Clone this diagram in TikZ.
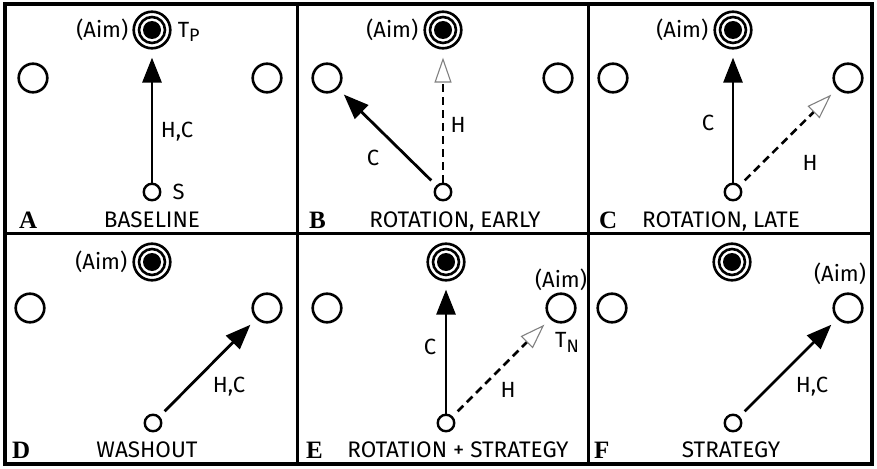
\documentclass[tikz,border=0pt]{standalone}
\usepackage{fontspec}
\setmainfont{Fira Sans}
\newfontfamily\letterfont{Liberation Serif}
\usetikzlibrary{arrows.meta,positioning}

\newcommand{\sublbl}[1]{\raisebox{-0.4ex}{\fontsize{18}{18}\selectfont #1}}

\begin{document}
\begin{tikzpicture}[
    x=1pt, y=-1pt,
    frame/.style={draw, line width=3.4pt},
    divider/.style={draw, line width=3pt},
    target/.style={circle, draw, line width=2.6pt, minimum size=36.6pt, inner sep=0pt,
        path picture={\draw[line width=2.6pt] (path picture bounding box.center) circle (13pt);
                      \fill (path picture bounding box.center) circle (9pt);}},
    ring/.style={circle, draw, line width=2.6pt, minimum size=28.6pt, inner sep=0pt},
    home/.style={circle, draw, line width=2.4pt, minimum size=16.5pt, inner sep=0pt},
    lbl/.style={font=\fontsize{22}{24}\selectfont, inner sep=0pt},
    caption/.style={font=\fontsize{22.5}{24}\selectfont, anchor=base, inner sep=0pt},
    letter/.style={font=\letterfont\bfseries\fontsize{25}{27}\selectfont, anchor=base west, inner sep=0pt},
    cursorarrow/.style={-{Triangle[length=25pt, width=19pt]}, line width=2.8pt, shorten >=8pt},
    handarrow/.style={-{Triangle[open, length=25pt, width=17pt, line width=1.1pt, color=gray]},
        line width=2.6pt, dash pattern=on 8pt off 5pt, shorten >=8pt},
    diag/.style={shorten <=7pt},
]
\useasboundingbox (0,0) rectangle (877,468);

% ── Frame ──
\draw[frame] (5,4) rectangle (872,464);
\draw[divider] (297,4) -- (297,464);
\draw[divider] (588,4) -- (588,464);
\draw[divider] (5,233) -- (872,233);

% ── A: baseline ──
\begin{scope}
  \node[target] (tA) at (152,30) {};
  \node[ring] (lA) at (33,78) {};
  \node[ring] (rA) at (267,78) {};
  \node[home] (sA) at (152,192) {};
  \draw[cursorarrow] (sA) -- (tA);
  \node[lbl, left=4pt of tA] (aimA) {(Aim)};
  \node[lbl, right=6pt of tA, yshift=-2pt] (tpA) {T\sublbl{P}};
  \node[lbl] (hcA) at (177,132) {H,C};
  \node[lbl, right=11pt of sA] (sLabA) {S};
  \node[letter] (idA) at (19,228) {A};
  \node[caption] (capA) at (152,227) {BASELINE};
\end{scope}

% ── B: rotation, early ──
\begin{scope}[shift={(291,0)}]
  \node[target] (tB) at (152,30) {};
  \node[ring] (lB) at (36,78) {};
  \node[ring] (rB) at (267,78) {};
  \node[home] (sB) at (152,192) {};
  \draw[handarrow] (sB) -- (tB);
  \draw[cursorarrow, diag] (sB) -- (lB);
  \node[lbl, left=5pt of tB] (aimB) {(Aim)};
  \node[lbl] (hB) at (167,125) {H};
  \node[lbl] (cB) at (82,158) {C};
  \node[letter] (idB) at (18,228) {B};
  \node[caption] (capB) at (164,227) {ROTATION, EARLY};
\end{scope}

% ── C: rotation, late ──
\begin{scope}[shift={(581,0)}]
  \node[target] (tC) at (152,30) {};
  \node[ring] (lC) at (32,78) {};
  \node[ring] (rC) at (267,78) {};
  \node[home] (sC) at (152,192) {};
  \draw[cursorarrow] (sC) -- (tC);
  \draw[handarrow, diag] (sC) -- (rC);
  \node[lbl, left=5pt of tC] (aimC) {(Aim)};
  \node[lbl] (cC) at (127,123) {C};
  \node[lbl] (hC) at (229,163) {H};
  \node[letter] (idC) at (18,228) {C};
  \node[caption] (capC) at (140,227) {ROTATION, LATE};
\end{scope}

% ── D: washout ──
\begin{scope}[shift={(0,230)}]
  \node[target] (tD) at (152,32) {};
  \node[ring] (lD) at (30,78) {};
  \node[ring] (rD) at (267,78) {};
  \node[home] (sD) at (153,193) {};
  \draw[cursorarrow, diag] (sD) -- (rD);
  \node[lbl, left=5pt of tD] (aimD) {(Aim)};
  \node[lbl] (hcD) at (229,157) {H,C};
  \node[letter] (idD) at (12,228) {D};
  \node[caption] (capD) at (147,227) {WASHOUT};
\end{scope}

% ── E: rotation + strategy ──
\begin{scope}[shift={(291,230)}]
  \node[target] (tE) at (155,32) {};
  \node[ring] (lE) at (36,78) {};
  \node[ring] (rE) at (270,78) {};
  \node[home] (sE) at (155,193) {};
  \draw[cursorarrow] (sE) -- (tE);
  \draw[handarrow, diag] (sE) -- (rE);
  \node[lbl, above=2pt of rE] (aimE) {(Aim)};
  \node[lbl, below=9pt of rE, xshift=6pt] (tnE) {T\sublbl{N}};
  \node[lbl] (cE) at (139,117) {C};
  \node[lbl] (hE) at (217,160) {H};
  \node[letter] (idE) at (15,228) {E};
  \node[caption] (capE) at (167,227) {ROTATION + STRATEGY};
\end{scope}

% ── F: strategy ──
\begin{scope}[shift={(581,230)}]
  \node[target] (tF) at (151,32) {};
  \node[ring] (lF) at (31,78) {};
  \node[ring] (rF) at (267,78) {};
  \node[home] (sF) at (152,193) {};
  \draw[cursorarrow, diag] (sF) -- (rF);
  \node[lbl, above=8pt of rF, xshift=-8pt] (aimF) {(Aim)};
  \node[lbl] (hcF) at (231,157) {H,C};
  \node[letter] (idF) at (13,228) {F};
  \node[caption] (capF) at (150,227) {STRATEGY};
\end{scope}

\end{tikzpicture}
\end{document}
